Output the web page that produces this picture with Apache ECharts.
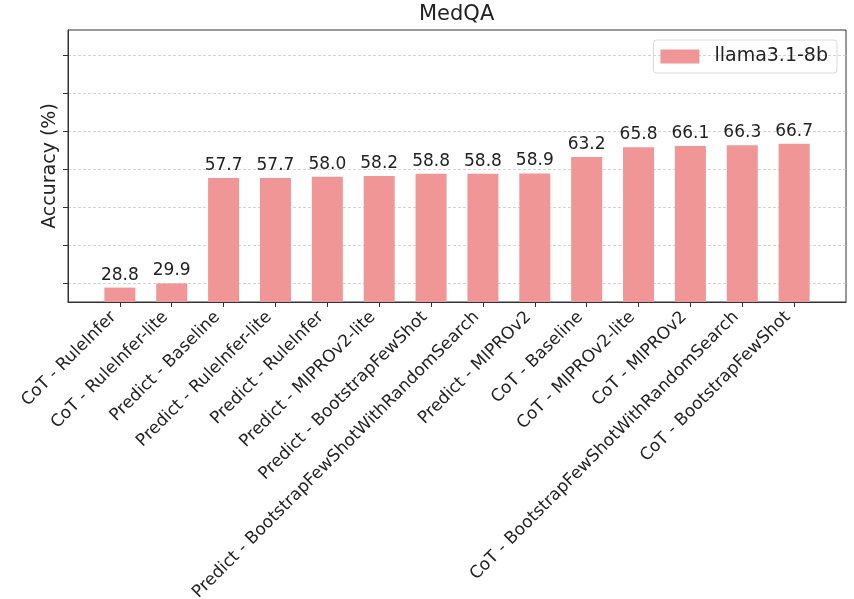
<!DOCTYPE html>
<html>
<head>
<meta charset="utf-8">
<script src="https://cdn.jsdelivr.net/npm/echarts@6/dist/echarts.min.js"></script>
<style>
  html, body { margin: 0; padding: 0; background: #fff; }
  #chart { width: 854px; height: 599px; }
</style>
</head>
<body>
<div id="chart"></div>
<script>
// MedQA accuracy per prompting / optimisation method
const categories = [
  'CoT - RuleInfer',
  'CoT - RuleInfer-lite',
  'Predict - Baseline',
  'Predict - RuleInfer-lite',
  'Predict - RuleInfer',
  'Predict - MIPROv2-lite',
  'Predict - BootstrapFewShot',
  'Predict - BootstrapFewShotWithRandomSearch',
  'Predict - MIPROv2',
  'CoT - Baseline',
  'CoT - MIPROv2-lite',
  'CoT - MIPROv2',
  'CoT - BootstrapFewShotWithRandomSearch',
  'CoT - BootstrapFewShot'
];
const accuracy = [28.8, 29.9, 57.7, 57.7, 58.0, 58.2, 58.8, 58.8, 58.9, 63.2, 65.8, 66.1, 66.3, 66.7];
const yTicks = [30, 40, 50, 60, 70, 80, 90];
const seriesName = 'llama3.1-8b';
const yMin = 25;
const yMax = 96.7;

// one empty slot on each side gives the half-bar margin at both ends
const xData = [''].concat(categories, ['']);
const yData = [null].concat(accuracy, [null]);

const FONT = 'DejaVu Sans';
const INK = '#222';
const BAR = '#f19696';

const chart = echarts.init(document.getElementById('chart'), null, { renderer: 'canvas' });
chart.setOption({
  animation: false,
  backgroundColor: '#fff',
  textStyle: { fontFamily: FONT, color: INK },
  title: {
    text: 'MedQA',
    left: 419,
    top: 4,
    padding: 0,
    textStyle: { fontFamily: FONT, fontSize: 21, fontWeight: 'normal', color: INK }
  },
  legend: {
    data: [seriesName],
    right: 17,
    top: 40,
    orient: 'horizontal',
    icon: 'rect',
    itemWidth: 39,
    itemHeight: 14,
    padding: [7, 9, 7, 7],
    borderColor: '#d9d9d9',
    borderWidth: 1,
    borderRadius: 3,
    textStyle: { fontFamily: FONT, fontSize: 19, color: INK, padding: [0, 0, 0, 10] }
  },
  grid: {
    left: 68,
    right: 8,
    top: 30,
    bottom: 297,
    show: true,
    borderColor: '#333',
    borderWidth: 1,
    containLabel: false,
    outerBoundsMode: 'none'
  },
  xAxis: {
    type: 'category',
    data: xData,
    boundaryGap: false,
    axisLine: { show: true, lineStyle: { color: '#333', width: 1 } },
    axisTick: {
      show: true,
      length: 5,
      interval: function (index) { return index > 0 && index < xData.length - 1; },
      lineStyle: { color: '#333' }
    },
    axisLabel: {
      interval: 0,
      rotate: 45,
      margin: 6,
      padding: [0, 9, 0, 0],
      fontFamily: FONT,
      fontSize: 17,
      color: INK
    },
    splitLine: { show: false }
  },
  yAxis: {
    type: 'value',
    min: yMin,
    max: yMax,
    name: 'Accuracy (%)',
    nameLocation: 'middle',
    nameGap: 8,
    nameTextStyle: { fontFamily: FONT, fontSize: 19, color: INK },
    axisLine: { show: true, lineStyle: { color: '#333', width: 1 } },
    axisTick: { show: true, length: 5, customValues: yTicks, lineStyle: { color: '#333' } },
    axisLabel: { show: false, customValues: yTicks },
    splitLine: { show: true, lineStyle: { color: '#c8c8c8', type: [3, 2], width: 0.8 } }
  },
  series: [{
    name: seriesName,
    type: 'bar',
    data: yData,
    barWidth: 31,
    itemStyle: { color: BAR },
    label: {
      show: true,
      position: 'top',
      distance: 4,
      fontFamily: FONT,
      fontSize: 17,
      color: INK,
      formatter: function (p) { return p.value == null ? '' : p.value.toFixed(1); }
    }
  }]
});
</script>
</body>
</html>
